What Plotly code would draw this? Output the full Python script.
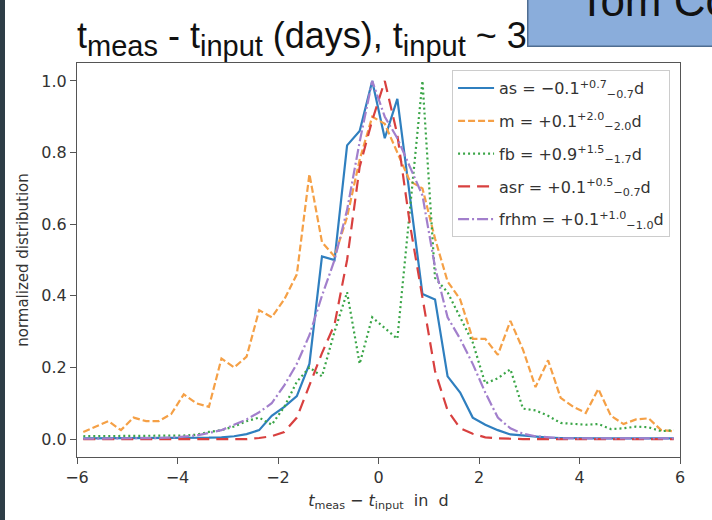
import plotly.graph_objects as go

# bin centres (d) and normalized distributions
BINS = [-5.875, -5.625, -5.375, -5.125, -4.875, -4.625, -4.375, -4.125,
        -3.875, -3.625, -3.375, -3.125, -2.875, -2.625, -2.375, -2.125,
        -1.875, -1.625, -1.375, -1.125, -0.875, -0.625, -0.375, -0.125,
        0.125, 0.375, 0.625, 0.875, 1.125, 1.375, 1.625, 1.875,
        2.125, 2.375, 2.625, 2.875, 3.125, 3.375, 3.625, 3.875,
        4.125, 4.375, 4.625, 4.875, 5.125, 5.375, 5.625, 5.875]

AS = [0.002, 0.002, 0.002, 0.002, 0.002, 0.002, 0.002, 0.002,
      0.003, 0.003, 0.004, 0.005, 0.008, 0.014, 0.025, 0.065,
      0.09, 0.12, 0.21, 0.51, 0.50, 0.82, 0.86, 1.0,
      0.84, 0.95, 0.68, 0.405, 0.39, 0.175, 0.13, 0.06,
      0.04, 0.025, 0.013, 0.01, 0.006, 0.004, 0.003, 0.002,
      0.002, 0.002, 0.002, 0.002, 0.002, 0.002, 0.002, 0.002]

M = [0.02, 0.035, 0.05, 0.025, 0.06, 0.05, 0.05, 0.07,
     0.125, 0.10, 0.09, 0.225, 0.20, 0.23, 0.36, 0.34,
     0.39, 0.46, 0.74, 0.55, 0.51, 0.62, 0.78, 0.90,
     0.88, 0.80, 0.72, 0.70, 0.56, 0.44, 0.39, 0.28,
     0.28, 0.235, 0.33, 0.25, 0.145, 0.22, 0.115, 0.09,
     0.073, 0.14, 0.065, 0.042, 0.055, 0.058, 0.025, 0.022]

FB = [0.008, 0.008, 0.008, 0.008, 0.008, 0.008, 0.008, 0.008,
      0.01, 0.012, 0.02, 0.025, 0.035, 0.05, 0.06, 0.04,
      0.09, 0.16, 0.20, 0.175, 0.30, 0.41, 0.21, 0.34,
      0.31, 0.28, 0.64, 1.0, 0.45, 0.41, 0.34, 0.27,
      0.155, 0.17, 0.195, 0.085, 0.08, 0.065, 0.045, 0.042,
      0.04, 0.042, 0.028, 0.03, 0.035, 0.033, 0.022, 0.025]

ASR = [0.0, 0.0, 0.0, 0.0, 0.0, 0.0, 0.0, 0.0,
       0.0, 0.0, 0.0, 0.0, 0.0, 0.0, 0.003, 0.008,
       0.02, 0.06, 0.15, 0.24, 0.32, 0.50, 0.76, 0.89,
       1.0, 0.85, 0.60, 0.40, 0.19, 0.08, 0.03, 0.015,
       0.005, 0.002, 0.0, 0.0, 0.0, 0.0, 0.0, 0.0,
       0.0, 0.0, 0.0, 0.0, 0.0, 0.0, 0.0, 0.0]

FRHM = [0.001, 0.001, 0.001, 0.001, 0.001, 0.002, 0.003, 0.004,
        0.006, 0.01, 0.017, 0.025, 0.04, 0.055, 0.075, 0.10,
        0.15, 0.21, 0.29, 0.40, 0.50, 0.64, 0.83, 1.0,
        0.90, 0.84, 0.76, 0.68, 0.48, 0.34, 0.28, 0.21,
        0.13, 0.06, 0.03, 0.015, 0.008, 0.004, 0.002, 0.002,
        0.002, 0.002, 0.002, 0.002, 0.002, 0.002, 0.002, 0.002]

NAMES = ['as = −0.1<sup>+0.7</sup><sub>−0.7</sub>d',
         'm = +0.1<sup>+2.0</sup><sub>−2.0</sub>d',
         'fb = +0.9<sup>+1.5</sup><sub>−1.7</sub>d',
         'asr = +0.1<sup>+0.5</sup><sub>−0.7</sub>d',
         'frhm = +0.1<sup>+1.0</sup><sub>−1.0</sub>d']

X_TICKS = [-6, -4, -2, 0, 2, 4, 6]
X_LABELS = ['−6', '−4', '−2', '0', '2', '4', '6']
Y_TICKS = [0.0, 0.2, 0.4, 0.6, 0.8, 1.0]

styles = [('#2f7fbf', 'solid'),
          ('#f5a046', '7px,3px'),
          ('#3aa547', '2px,3px'),
          ('#d8403f', '12px,7px'),
          ('#a27fcc', '11px,3px,2px,3px')]

fig = go.Figure()
for i, (name, ys, (col, dash)) in enumerate(zip(NAMES, [AS, M, FB, ASR, FRHM], styles)):
    fig.add_trace(go.Scatter(x=BINS, y=ys, mode='lines', name=name, legendgroup=str(i),
                             line=dict(color=col, dash=dash, width=2.2)))

axis_common = dict(showline=True, linecolor='#555', linewidth=1.2, mirror=True,
                   ticks='outside', ticklen=6, tickcolor='#555', showgrid=False,
                   zeroline=False, automargin=False,
                   tickfont=dict(family='DejaVu Sans', size=16, color='#333'))

fig.update_xaxes(range=[-6, 6], tickvals=X_TICKS, ticktext=X_LABELS,
                 title=dict(text='<i>t</i><sub>meas</sub> − <i>t</i><sub>input</sub>  in  d',
                            font=dict(family='DejaVu Sans', size=16, color='#333'),
                            standoff=8),
                 **axis_common)
fig.update_yaxes(range=[-0.05, 1.05], tickvals=Y_TICKS, tickformat='.1f',
                 title=dict(text='normalized distribution',
                            font=dict(family='DejaVu Sans', size=15, color='#333'),
                            standoff=8),
                 **axis_common)

sub = '<sub><span style="font-size:29px">%s</span></sub>'
title_text = ('t' + sub % 'meas' + ' - t' + sub % 'input' + ' (days), t' + sub % 'input' + ' ~ 3')

fig.update_layout(
    width=712, height=520,
    margin=dict(l=77, r=32, t=63, b=63),
    paper_bgcolor='white', plot_bgcolor='white',
    showlegend=True,
    legend=dict(x=0.622, y=0.982, xanchor='left', yanchor='top',
                bgcolor='white', bordercolor='#cccccc', borderwidth=1,
                font=dict(family='DejaVu Sans', size=16, color='#333'),
                tracegroupgap=9, itemwidth=36),
    shapes=[
        dict(type='rect', xref='paper', yref='paper', x0=-0.1277, x1=-0.1194,
             y0=-0.17, y1=1.17, fillcolor='#2e3d47', line=dict(width=0)),
    ],
    annotations=[
        dict(text=title_text,
             xref='paper', yref='paper', x=-0.003, y=1.063, xanchor='left', yanchor='middle',
             showarrow=False, font=dict(family='Liberation Sans', size=36, color='#111')),
        dict(text='&nbsp;&nbsp;&nbsp;&nbsp;Tom Collett', xref='paper', yref='paper',
             x=0.746, y=1.0406, xanchor='left', yanchor='bottom', showarrow=False,
             width=220, height=88, align='left', valign='middle',
             bgcolor='#8aaddb', bordercolor='#4f6d91', borderwidth=1.5,
             font=dict(family='Liberation Sans', size=44, color='#111')),
    ],
)

fig.write_html('out.html', config={'displayModeBar': False},
               post_script="document.body.style.margin='0';document.body.style.overflow='hidden';")
